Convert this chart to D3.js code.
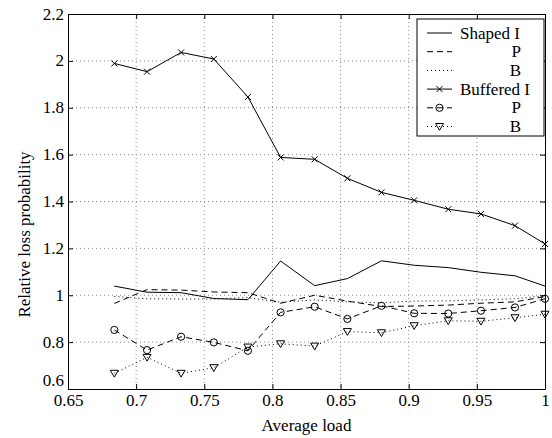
<!DOCTYPE html>
<html>
<head>
<meta charset="utf-8">
<script src="https://cdn.jsdelivr.net/npm/d3@7"></script>
<style>
  html, body { margin: 0; padding: 0; background: #fff; }
  svg { display: block; }
  svg text { font-family: "Liberation Serif", "Times New Roman", Times, "DejaVu Serif", serif !important; fill: #000; }
</style>
</head>
<body>
<svg id="chart" width="552" height="438"></svg>
<script>
// ---- data ----
const loads = [0.684, 0.708, 0.733, 0.757, 0.782, 0.806, 0.831, 0.855, 0.88, 0.904, 0.929, 0.953, 0.978, 1.0];
const shapedI   = [1.039, 1.013, 1.011, 0.986, 0.981, 1.146, 1.041, 1.071, 1.147, 1.128, 1.118, 1.098, 1.083, 1.039];
const shapedP   = [0.965, 1.024, 1.022, 1.014, 1.011, 0.966, 1.000, 0.975, 0.952, 0.954, 0.958, 0.966, 0.972, 0.994];
const shapedB   = [0.995, 0.985, 0.984, 0.984, 0.990, 0.970, 0.980, 0.972, 0.968, 0.975, 0.976, 0.980, 0.985, 0.998];
const bufferedI = [1.989, 1.954, 2.036, 2.008, 1.846, 1.588, 1.580, 1.499, 1.439, 1.405, 1.367, 1.347, 1.297, 1.219];
const bufferedP = [0.852, 0.766, 0.823, 0.799, 0.763, 0.927, 0.951, 0.899, 0.955, 0.923, 0.922, 0.934, 0.948, 0.985];
const bufferedB = [0.667, 0.735, 0.667, 0.691, 0.779, 0.793, 0.783, 0.845, 0.840, 0.870, 0.891, 0.889, 0.904, 0.919];
const xTicks = [0.65, 0.7, 0.75, 0.8, 0.85, 0.9, 0.95, 1];
const yTicks = [0.6, 0.8, 1, 1.2, 1.4, 1.6, 1.8, 2, 2.2];
const legendLabels = ["Shaped I", "P", "B", "Buffered I", "P", "B"];
const xTitle = "Average load";
const yTitle = "Relative loss probability";

// ---- layout ----
const svg = d3.select("#chart");
const L = 68, R = 545, T = 14, B = 389;
const x = d3.scaleLinear().domain([0.65, 1]).range([L, R]);
const y = d3.scaleLinear().domain([0.6, 2.2]).range([B, T]);
const FS = 17;
const FF = '"Liberation Serif", "Times New Roman", Times, serif';

// grid
const grid = svg.append("g");
grid.selectAll("line.gx").data(xTicks.slice(1, -1)).join("line")
  .attr("x1", d => x(d)).attr("x2", d => x(d)).attr("y1", T).attr("y2", B)
  .attr("stroke", "#8a8a8a").attr("stroke-width", 1).attr("stroke-dasharray", "1,3");
grid.selectAll("line.gy").data(yTicks.slice(1, -1)).join("line")
  .attr("y1", d => y(d)).attr("y2", d => y(d)).attr("x1", L).attr("x2", R)
  .attr("stroke", "#8a8a8a").attr("stroke-width", 1).attr("stroke-dasharray", "1,3");

// axes (ticks inward, all four sides)
const tl = 5;
const axB = svg.append("g").attr("transform", `translate(0,${B})`)
  .call(d3.axisBottom(x).tickValues(xTicks).tickSizeInner(-tl).tickSizeOuter(0).tickPadding(10).tickFormat(d3.format("")));
const axT = svg.append("g").attr("transform", `translate(0,${T})`)
  .call(d3.axisTop(x).tickValues(xTicks).tickSizeInner(-tl).tickSizeOuter(0).tickFormat(""));
const axL = svg.append("g").attr("transform", `translate(${L},0)`)
  .call(d3.axisLeft(y).tickValues(yTicks).tickSizeInner(-tl).tickSizeOuter(0).tickPadding(4).tickFormat(d3.format("")));
const axR = svg.append("g").attr("transform", `translate(${R},0)`)
  .call(d3.axisRight(y).tickValues(yTicks).tickSizeInner(-tl).tickSizeOuter(0).tickFormat(""));
[axB, axT, axL, axR].forEach(a => {
  a.attr("font-family", FF).attr("font-size", FS);
  a.select(".domain").attr("stroke", "#000");
  a.selectAll(".tick line").attr("stroke", "#000");
  a.selectAll("text").attr("fill", "#000");
});
axB.selectAll(".tick text").attr("dy", "0.71em").attr("y", 5);
axL.selectAll(".tick text").attr("dy", d => d === 0.6 ? "-0.2em" : "0.3em");

// titles
svg.append("text").attr("x", (L + R) / 2).attr("y", 431).attr("text-anchor", "middle")
  .attr("font-family", FF).attr("font-size", FS).text(xTitle);
svg.append("text").attr("transform", `translate(30,${(T + B) / 2 + 33}) rotate(-90)`).attr("text-anchor", "middle")
  .attr("font-family", FF).attr("font-size", FS).text(yTitle);

// series
const series = [
  { v: shapedI, dash: null, marker: null },
  { v: shapedP, dash: "6,4", marker: null },
  { v: shapedB, dash: "1,3", marker: null },
  { v: bufferedI, dash: null, marker: "x" },
  { v: bufferedP, dash: "6,4", marker: "o" },
  { v: bufferedB, dash: "1,3", marker: "v" }
];
const line = d3.line().x(d => x(d[0])).y(d => y(d[1]));

function drawMarker(g, type, cx, cy) {
  if (type === "x") {
    const s = 3;
    g.append("path").attr("d", `M${cx - s},${cy - s}L${cx + s},${cy + s}M${cx - s},${cy + s}L${cx + s},${cy - s}`)
      .attr("stroke", "#000").attr("stroke-width", 1).attr("fill", "none");
  } else if (type === "o") {
    g.append("circle").attr("cx", cx).attr("cy", cy).attr("r", 3.6)
      .attr("stroke", "#000").attr("stroke-width", 1).attr("fill", "none");
  } else if (type === "v") {
    const s = 4;
    g.append("path").attr("d", `M${cx - s},${cy - s * 0.75}L${cx + s},${cy - s * 0.75}L${cx},${cy + s * 0.95}Z`)
      .attr("stroke", "#000").attr("stroke-width", 1).attr("fill", "none");
  }
}

const plot = svg.append("g");
series.forEach(s => {
  const pts = loads.map((l, i) => [l, s.v[i]]);
  plot.append("path").datum(pts).attr("d", line)
    .attr("fill", "none").attr("stroke", "#000").attr("stroke-width", 1)
    .attr("stroke-dasharray", s.dash);
  if (s.marker) {
    const mg = plot.append("g");
    pts.forEach(p => drawMarker(mg, s.marker, x(p[0]), y(p[1])));
  }
});

// legend
const lg = svg.append("g");
const lx0 = 417, ly0 = 19, lw = 127, lh = 117;
lg.append("rect").attr("x", lx0).attr("y", ly0).attr("width", lw).attr("height", lh)
  .attr("fill", "#fff").attr("stroke", "#000").attr("stroke-width", 1);
legendLabels.forEach((lab, i) => {
  const s = series[i];
  const cy = 33 + i * 18.7;
  lg.append("line").attr("x1", 427).attr("x2", 452).attr("y1", cy).attr("y2", cy)
    .attr("stroke", "#000").attr("stroke-width", 1).attr("stroke-dasharray", s.dash);
  if (s.marker) drawMarker(lg, s.marker, 439.5, cy);
  const isMain = i === 0 || i === 3;
  lg.append("text").attr("x", isMain ? 460 : 521).attr("y", cy).attr("dy", "0.33em")
    .attr("text-anchor", isMain ? "start" : "end")
    .attr("font-family", FF).attr("font-size", FS).text(lab);
});
</script>
</body>
</html>
